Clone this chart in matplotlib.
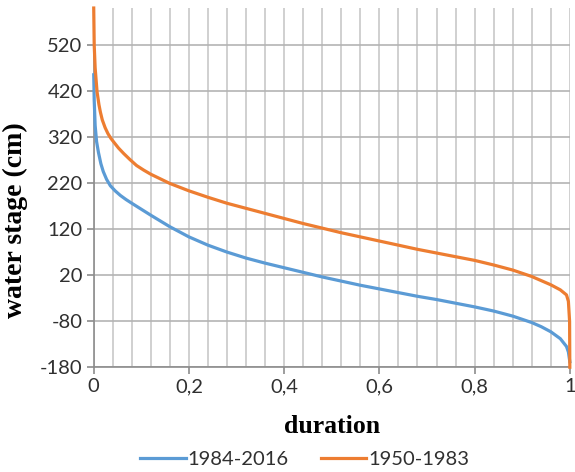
import matplotlib.pyplot as plt
from matplotlib.ticker import MultipleLocator, FixedLocator

plt.rcParams['axes.unicode_minus'] = False

# duration curves
dur_new = [0, 0.001, 0.003, 0.006, 0.01, 0.015, 0.02, 0.027, 0.035, 0.045, 0.056, 0.068,
           0.08, 0.1, 0.12, 0.16, 0.2, 0.24, 0.28, 0.32, 0.36, 0.4, 0.44, 0.48, 0.52,
           0.56, 0.6, 0.64, 0.68, 0.72, 0.76, 0.8, 0.84, 0.88, 0.92, 0.94, 0.96, 0.98,
           0.993, 0.997, 1.0]
stage_new = [455, 400, 345, 310, 286, 262, 245, 228, 214, 203, 193, 184,
             176, 163, 150, 125, 103, 85, 70, 57, 46, 36, 26, 16, 7,
             -2, -10, -18, -26, -33, -41, -49, -58, -69, -83, -92, -103, -118,
             -135, -147, -168]

dur_old = [0, 0.001, 0.003, 0.007, 0.011, 0.014, 0.018, 0.024, 0.03, 0.036, 0.042, 0.052,
           0.063, 0.076, 0.09, 0.105, 0.12, 0.16, 0.2, 0.24, 0.28, 0.32, 0.36, 0.4, 0.44,
           0.48, 0.52, 0.56, 0.6, 0.64, 0.68, 0.72, 0.76, 0.8, 0.84, 0.88, 0.92, 0.96,
           0.98, 0.993, 0.997, 0.9995, 1.0]
stage_old = [600, 520, 470, 418, 390, 374, 357, 340, 327, 317, 309, 296,
             284, 271, 258, 248, 239, 219, 203, 189, 176, 165, 154, 143, 132,
             122, 112, 103, 94, 85, 76, 68, 60, 52, 42, 31, 17, -1,
             -12, -23, -37, -80, -180]

x_ticks = [0, 0.2, 0.4, 0.6, 0.8, 1]
x_labels = ['0', '0,2', '0,4', '0,6', '0,8', '1']
y_ticks = [-180, -80, 20, 120, 220, 320, 420, 520]

fig = plt.figure(figsize=(5.75, 4.72), dpi=100)
ax = fig.add_axes([0.163, 0.222, 0.828, 0.761])

ax.plot(dur_new, stage_new, color='#5B9BD5', lw=2.3, label='1984-2016', clip_on=False, zorder=3)
ax.plot(dur_old, stage_old, color='#ED7D31', lw=2.3, label='1950-1983', clip_on=False, zorder=4)

ax.set_xlim(0, 1)
ax.set_ylim(-180, 600)
ax.xaxis.set_major_locator(FixedLocator(x_ticks))
ax.set_xticklabels(x_labels)
ax.xaxis.set_minor_locator(MultipleLocator(0.04))
ax.yaxis.set_major_locator(FixedLocator(y_ticks))

ax.grid(True, which='both', axis='x', color='#c8c8c8', lw=1.2)
ax.grid(True, which='major', axis='y', color='#b4b4b4', lw=1.2)
ax.set_axisbelow(True)

for s in ['top', 'right']:
    ax.spines[s].set_visible(False)
for s in ['left', 'bottom']:
    ax.spines[s].set_color('#8c8c8c')
    ax.spines[s].set_linewidth(1.2)

ax.tick_params(which='major', length=5, width=1.2, color='#8c8c8c', labelsize=14.5,
               labelcolor='#303030', pad=3)
ax.tick_params(which='minor', length=0)
for lb in ax.get_xticklabels() + ax.get_yticklabels():
    lb.set_fontfamily('Lato')

ax.set_xlabel('duration', fontfamily='Liberation Serif', fontweight='bold', fontsize=18.5)
ax.set_ylabel('water stage (cm)', fontfamily='Liberation Serif', fontweight='bold', fontsize=20)
ax.xaxis.set_label_coords(0.5, -0.133)
ax.yaxis.set_label_coords(-0.137, 0.41)

fig.legend(loc='lower center', bbox_to_anchor=(0.53, -0.03), ncol=2, frameon=False,
           prop={'family': 'Lato', 'size': 14.5}, handlelength=2.25, columnspacing=1.6,
           handletextpad=0.1, labelcolor='#303030')

plt.savefig('out.png', dpi=100)
